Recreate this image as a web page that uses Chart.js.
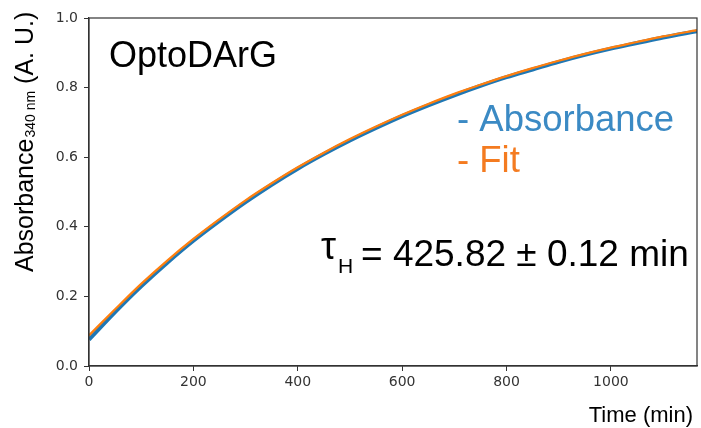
<!DOCTYPE html>
<html>
<head>
<meta charset="utf-8">
<script src="https://cdn.jsdelivr.net/npm/chart.js@4/dist/chart.umd.min.js"></script>
<style>
  html, body { margin: 0; padding: 0; background: #fff; }
  canvas { display: block; }
</style>
</head>
<body>
<canvas id="decayChart" width="701" height="428"></canvas>
<script>
// time points in minutes
const timeMin = [0, 50, 100, 150, 200, 250, 300, 350, 400, 450, 500, 550,
                 600, 650, 700, 750, 800, 850, 900, 950, 1000, 1050, 1100, 1165];

// measured absorbance at 340 nm
const absorbance = [0.076, 0.155, 0.229, 0.297, 0.360, 0.417, 0.471, 0.521, 0.567, 0.609, 0.648, 0.684,
                    0.718, 0.749, 0.778, 0.805, 0.830, 0.852, 0.874, 0.894, 0.912, 0.928, 0.944, 0.962];

// fitted curve
const fitValues = [0.088, 0.163, 0.236, 0.303, 0.365, 0.422, 0.476, 0.525, 0.571, 0.613, 0.652, 0.688,
                   0.722, 0.753, 0.782, 0.808, 0.833, 0.856, 0.877, 0.897, 0.915, 0.931, 0.947, 0.965];

const xTicks = [0, 200, 400, 600, 800, 1000];
const yTicks = [0.0, 0.2, 0.4, 0.6, 0.8, 1.0];

const sans = '"Liberation Sans", Arial, sans-serif';
const tickFont = '"DejaVu Sans", sans-serif';

function toPoints(ys) {
    return timeMin.map((t, i) => ({ x: t, y: ys[i] }));
}

// frame + annotation text
const annotations = {
    id: 'annotations',
    afterDraw(chart) {
        const ctx = chart.ctx;
        const a = chart.chartArea;
        ctx.save();

        ctx.strokeStyle = '#333';
        ctx.lineWidth = 1.2;
        ctx.strokeRect(a.left, a.top, a.right - a.left, a.bottom - a.top);

        ctx.textBaseline = 'alphabetic';
        ctx.textAlign = 'left';

        ctx.fillStyle = '#000';
        ctx.font = '36px ' + sans;
        ctx.fillText('OptoDArG', 109, 67);

        ctx.font = '36.5px ' + sans;
        ctx.fillStyle = '#3b8ac4';
        ctx.fillText('- Absorbance', 457, 131);
        ctx.fillStyle = '#f47b20';
        ctx.fillText('- Fit', 457, 172);

        // tau_H label
        ctx.fillStyle = '#000';
        ctx.font = '38px ' + sans;
        ctx.fillText('τ', 321, 259);
        ctx.font = '21px ' + sans;
        ctx.fillText('H', 338, 273);
        ctx.font = '37px ' + sans;
        ctx.fillText('= 425.82 ± 0.12 min', 361, 266);

        // x axis title
        ctx.font = '22px ' + sans;
        ctx.textAlign = 'right';
        ctx.fillText('Time (min)', 693, 422);

        // y axis title, rotated, with subscript
        ctx.translate(33, 272);
        ctx.rotate(-Math.PI / 2);
        ctx.textAlign = 'left';
        let x = 0;
        ctx.font = '25px ' + sans;
        ctx.fillText('Absorbance', x, 0);
        x += ctx.measureText('Absorbance').width + 1;
        ctx.font = '14px ' + sans;
        ctx.fillText('340 nm', x, 2);
        x += ctx.measureText('340 nm').width;
        ctx.font = '25px ' + sans;
        ctx.fillText(' (A. U.)', x, 0);

        ctx.restore();
    }
};

const ctx = document.getElementById('decayChart').getContext('2d');
const decayChart = new Chart(ctx, {
    type: 'line',
    data: {
        datasets: [{
            label: 'Absorbance',
            data: toPoints(absorbance),
            borderColor: '#1f77b4',
            borderWidth: 4,
            pointRadius: 0,
            cubicInterpolationMode: 'monotone',
            fill: false,
            order: 2
        }, {
            label: 'Fit',
            data: toPoints(fitValues),
            borderColor: '#ff7f0e',
            borderWidth: 2.2,
            pointRadius: 0,
            cubicInterpolationMode: 'monotone',
            fill: false,
            order: 1
        }]
    },
    options: {
        responsive: false,
        animation: false,
        layout: { padding: { left: 0, top: 18, right: 4, bottom: 0 } },
        plugins: {
            legend: { display: false },
            tooltip: { enabled: false }
        },
        scales: {
            x: {
                type: 'linear',
                min: 0,
                max: 1165,
                afterFit(scale) { scale.height = 62; },
                afterBuildTicks(scale) { scale.ticks = xTicks.map(v => ({ value: v })); },
                grid: { drawOnChartArea: false, drawTicks: true, tickLength: 5, color: '#333' },
                border: { display: true, color: '#333', width: 1.2 },
                ticks: {
                    font: { family: tickFont, size: 14 },
                    color: '#333',
                    padding: 3,
                    maxRotation: 0,
                    callback: v => String(v)
                }
            },
            y: {
                min: 0,
                max: 1,
                afterFit(scale) { scale.width = 89; },
                afterBuildTicks(scale) { scale.ticks = yTicks.map(v => ({ value: v })); },
                grid: { drawOnChartArea: false, drawTicks: true, tickLength: 5, color: '#333' },
                border: { display: true, color: '#333', width: 1.2 },
                ticks: {
                    font: { family: tickFont, size: 14 },
                    color: '#333',
                    padding: 6,
                    callback: v => Number(v).toFixed(1)
                }
            }
        }
    },
    plugins: [annotations]
});
</script>
</body>
</html>
